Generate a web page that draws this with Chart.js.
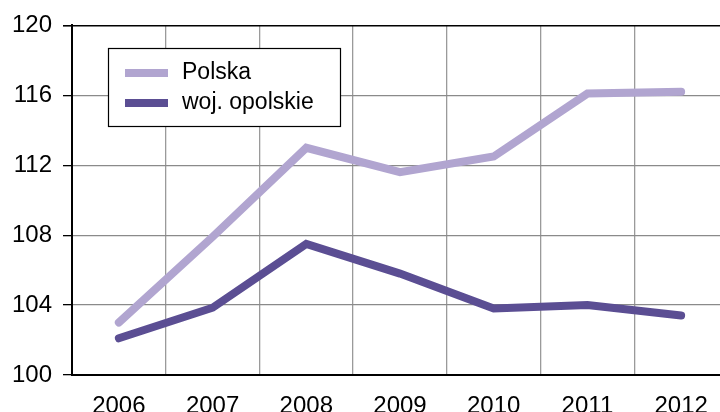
<!DOCTYPE html>
<html>
<head>
<meta charset="utf-8">
<script src="https://cdn.jsdelivr.net/npm/chart.js@4/dist/chart.umd.min.js"></script>
<style>
  html, body { margin: 0; padding: 0; background: #fff; overflow: hidden; }
</style>
</head>
<body>
<canvas id="plot" width="728" height="412"></canvas>
<script>
const lata = ['2006', '2007', '2008', '2009', '2010', '2011', '2012'];
const polska = [103.0, 107.9, 113.0, 111.6, 112.5, 116.1, 116.2];
const opolskie = [102.1, 103.85, 107.5, 105.8, 103.8, 104.0, 103.4];
const osY = [100, 104, 108, 112, 116, 120];

const FONT = '"Liberation Sans", Arial, sans-serif';

// legenda w ramce w lewym gornym rogu
const ramkaLegendy = {
    id: 'ramkaLegendy',
    afterDraw(chart) {
        const ctx = chart.ctx;
        const x = 108, y = 48, w = 232, h = 78;
        ctx.save();
        ctx.fillStyle = '#fff';
        ctx.fillRect(x, y, w, h);
        ctx.strokeStyle = '#000';
        ctx.lineWidth = 1.2;
        ctx.strokeRect(x + 0.5, y + 0.5, w, h);
        chart.data.datasets.forEach((ds, i) => {
            const yy = y + 25 + i * 30;
            ctx.strokeStyle = ds.borderColor;
            ctx.lineWidth = 8;
            ctx.beginPath();
            ctx.moveTo(125, yy);
            ctx.lineTo(168, yy);
            ctx.stroke();
            ctx.fillStyle = '#000';
            ctx.font = '23px ' + FONT;
            ctx.textBaseline = 'middle';
            ctx.fillText(ds.label, 182, yy);
        });
        ctx.restore();
    }
};

const wykres = new Chart(document.getElementById('plot'), {
    type: 'line',
    data: {
        labels: lata,
        datasets: [
            {
                label: 'Polska',
                data: polska,
                borderColor: '#b1a5d0',
                borderWidth: 8,
                borderCapStyle: 'round',
                borderJoinStyle: 'miter',
                pointRadius: 0,
                tension: 0,
                fill: false
            },
            {
                label: 'woj. opolskie',
                data: opolskie,
                borderColor: '#5b4e93',
                borderWidth: 8,
                borderCapStyle: 'round',
                borderJoinStyle: 'miter',
                pointRadius: 0,
                tension: 0,
                fill: false
            }
        ]
    },
    options: {
        responsive: false,
        animation: false,
        layout: { padding: { top: 25, right: 0, left: 0, bottom: 0 } },
        plugins: {
            legend: { display: false },
            tooltip: { enabled: false }
        },
        scales: {
            x: {
                offset: true,
                grid: {
                    offset: true,
                    color: '#9a9a9a',
                    lineWidth: 1.3,
                    drawTicks: false
                },
                border: { color: '#000', width: 2 },
                ticks: {
                    color: '#000',
                    font: { family: FONT, size: 24 },
                    padding: 17,
                    maxRotation: 0
                },
                afterFit(axis) { axis.height = 37; }
            },
            y: {
                min: 100,
                max: 120,
                afterBuildTicks(axis) { axis.ticks = osY.map(v => ({ value: v })); },
                grid: {
                    color: ctx => (ctx.tick && ctx.tick.value === 120) ? '#000' : '#8a8a8a',
                    lineWidth: ctx => (ctx.tick && ctx.tick.value === 120) ? 1.6 : 1.3,
                    tickColor: '#000',
                    tickLength: 9
                },
                border: { color: '#000', width: 2 },
                ticks: {
                    color: '#000',
                    font: { family: FONT, size: 24 },
                    padding: 11
                },
                afterFit(axis) { axis.width = 72; }
            }
        }
    },
    plugins: [ramkaLegendy]
});
</script>
</body>
</html>
